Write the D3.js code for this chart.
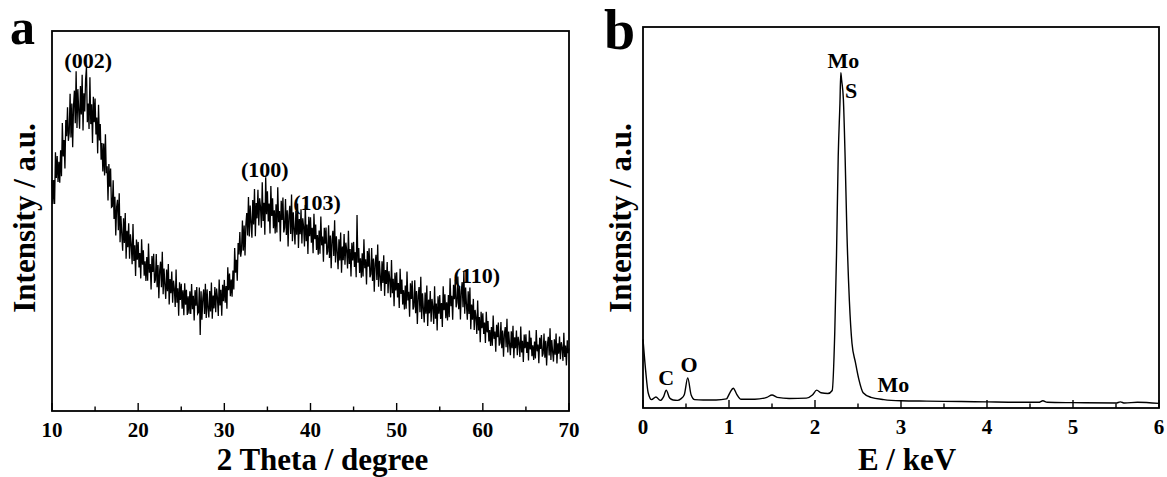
<!DOCTYPE html>
<html>
<head>
<meta charset="utf-8">
<script src="https://cdn.jsdelivr.net/npm/d3@7/dist/d3.min.js"></script>
<style>
  body { margin: 0; background: #fff; }
  svg { display: block; }
  text { font-family: "Liberation Serif", "Times New Roman", serif; font-weight: bold; fill: #000; }
</style>
</head>
<body>
<svg id="chart" width="1167" height="477"></svg>
<script>
// XRD pattern, 2 theta from 10 to 70 in 0.1 degree steps (one row per degree)
const xrdStart = 10;
const xrdStep = 0.1;
const xrdIntensity = [
  608, 545, 608, 545, 681, 613, 671, 603, 656, 601,
  686, 618, 758, 670, 713, 638, 766, 723, 799, 711,
  732, 835, 720, 809, 694, 804, 843, 757, 894, 745,
  847, 791, 743, 855, 780, 885, 738, 836, 788, 872,
  905, 760, 809, 742, 878, 755, 807, 705, 827, 760,
  822, 728, 772, 678, 806, 712, 755, 661, 705, 630,
  704, 620, 728, 626, 644, 554, 650, 590, 638, 536,
  538, 607, 505, 564, 462, 537, 556, 476, 573, 444,
  513, 465, 422, 507, 442, 521, 401, 474, 431, 494,
  401, 465, 439, 386, 492, 395, 436, 355, 451, 398,
  445, 378, 416, 349, 452, 385, 423, 356, 394, 342,
  405, 343, 441, 364, 387, 320, 408, 366, 414, 337,
  345, 413, 326, 384, 297, 370, 393, 326, 419, 307,
  375, 332, 295, 372, 315, 387, 280, 347, 310, 367,
  285, 343, 321, 274, 372, 285, 323, 251, 339, 292,
  335, 269, 318, 252, 336, 280, 319, 253, 302, 256,
  315, 255, 334, 268, 303, 238, 318, 277, 326, 256,
  260, 325, 200, 315, 240, 295, 320, 255, 335, 245,
  320, 270, 246, 316, 262, 338, 243, 304, 270, 326,
  260, 322, 298, 250, 346, 278, 319, 251, 332, 289,
  345, 285, 329, 269, 378, 318, 362, 302, 346, 301,
  370, 320, 429, 364, 398, 343, 442, 412, 471, 406,
  425, 501, 422, 488, 409, 490, 521, 462, 563, 459,
  541, 496, 456, 555, 491, 584, 460, 547, 507, 582,
  488, 560, 536, 482, 602, 500, 548, 464, 615, 518,
  578, 499, 546, 467, 592, 513, 560, 481, 528, 467,
  544, 470, 589, 497, 526, 446, 553, 503, 562, 470,
  483, 558, 463, 528, 433, 514, 540, 466, 570, 447,
  523, 478, 438, 526, 464, 546, 429, 505, 465, 531,
  441, 507, 484, 433, 542, 447, 491, 413, 511, 460,
  510, 443, 482, 415, 519, 452, 491, 424, 463, 411,
  475, 414, 512, 436, 459, 393, 482, 440, 483, 411,
  420, 489, 403, 462, 376, 450, 474, 408, 502, 391,
  460, 419, 373, 452, 396, 470, 364, 433, 397, 466,
  385, 443, 422, 375, 474, 387, 426, 354, 443, 396,
  445, 379, 418, 352, 516, 390, 429, 363, 402, 351,
  415, 354, 452, 376, 399, 333, 421, 380, 428, 352,
  360, 429, 342, 401, 314, 388, 411, 345, 438, 327,
  395, 353, 316, 394, 337, 410, 303, 371, 334, 392,
  310, 368, 346, 299, 397, 310, 348, 276, 364, 317,
  365, 299, 337, 271, 374, 308, 346, 280, 318, 267,
  330, 269, 367, 291, 314, 248, 336, 295, 343, 267,
  275, 344, 257, 316, 229, 303, 326, 260, 353, 242,
  310, 269, 233, 312, 256, 330, 224, 293, 257, 316,
  235, 295, 274, 229, 328, 243, 283, 212, 302, 256,
  305, 242, 284, 221, 328, 265, 307, 244, 286, 238,
  305, 247, 349, 276, 303, 240, 332, 294, 346, 273,
  285, 354, 268, 327, 241, 315, 339, 273, 367, 256,
  325, 280, 240, 315, 255, 325, 215, 280, 240, 295,
  213, 266, 246, 203, 291, 212, 247, 181, 261, 218,
  257, 203, 233, 179, 261, 207, 237, 183, 213, 171,
  221, 172, 251, 190, 209, 156, 227, 194, 233, 172,
  179, 234, 165, 212, 143, 202, 221, 168, 243, 154,
  209, 176, 147, 210, 165, 224, 139, 194, 165, 212,
  147, 195, 179, 142, 222, 154, 185, 129, 201, 165,
  202, 153, 182, 133, 212, 162, 193, 144, 173, 134,
  183, 138, 213, 157, 175, 126, 193, 163, 200, 143,
  151, 204, 140, 185, 120, 176, 195, 146, 218, 134,
  187, 156, 130, 189, 148, 204, 125, 178, 151, 196,
  136, 181, 166, 132, 206, 142, 172, 120, 186, 152,
  165
];
const xrdLabels = ["(002)", "(100)", "(103)", "(110)"];
const xrdLabelAt = [14.2, 34.7, 40.75, 59.3];
const xrdLabelLevel = [903, 616, 529, 337];

// EDS spectrum, energy in keV and counts in arbitrary units
const edsEnergy = [0, 0.03, 0.06, 0.1, 0.15, 0.2, 0.24, 0.27, 0.31, 0.35, 0.4, 0.44, 0.48, 0.52, 0.56, 0.6,
  0.7, 0.85, 0.97, 1.01, 1.05, 1.09, 1.14, 1.3, 1.44, 1.5, 1.56, 1.7, 1.9, 1.97, 2.02, 2.07, 2.15, 2.2,
  2.23, 2.25, 2.27, 2.29, 2.3, 2.31, 2.33, 2.35, 2.37, 2.4, 2.43, 2.47, 2.51, 2.56, 2.65, 2.8, 3.0,
  3.3, 3.7, 4.0, 4.4, 4.6, 4.65, 4.7, 5.0, 5.5, 5.55, 5.6, 5.75, 6.0];
const edsCounts = [18, 10, 4, 2.2, 2.9, 2.0, 3.0, 4.7, 2.6, 2.1, 2.0, 2.4, 3.5, 7.9, 3.4, 2.2,
  2.1, 2.1, 2.4, 4.0, 5.2, 3.6, 2.3, 2.3, 2.8, 3.4, 2.8, 2.5, 2.6, 3.4, 4.7, 4.0, 3.8, 4.6,
  20, 40, 66, 80, 88, 86, 81, 66, 47, 28, 17, 12, 7.5, 4.0, 2.8, 2.2, 1.9,
  1.8, 1.7, 1.6, 1.5, 1.5, 1.9, 1.5, 1.4, 1.3, 1.6, 1.3, 1.5, 1.2];
const edsLabels = ["Mo", "S", "C", "O", "Mo"];
const edsLabelAt = [2.33, 2.42, 0.27, 0.535, 2.91];
const edsLabelLevel = [89.2, 81.4, 6.0, 9.4, 4.2];

const xrdTicks = [10, 20, 30, 40, 50, 60, 70];
const edsTicks = [0, 1, 2, 3, 4, 5, 6];

const svg = d3.select("#chart");

function drawFrame(g, x, majors, minors, w, h) {
  g.selectAll(".minor").data(minors).enter().append("line")
    .attr("x1", d => x(d)).attr("x2", d => x(d))
    .attr("y1", h).attr("y2", h - 4.5)
    .attr("stroke", "#000").attr("stroke-width", 1.4);
  g.selectAll(".major").data(majors).enter().append("line")
    .attr("x1", d => x(d)).attr("x2", d => x(d))
    .attr("y1", h).attr("y2", h - 8)
    .attr("stroke", "#000").attr("stroke-width", 1.4);
  g.selectAll(".ticklabel").data(majors).enter().append("text")
    .attr("x", d => x(d)).attr("y", h + 26)
    .attr("text-anchor", "middle")
    .attr("font-size", 21)
    .text(d => d);
  g.append("rect")
    .attr("x", 0).attr("y", 0).attr("width", w).attr("height", h)
    .attr("fill", "none").attr("stroke", "#000").attr("stroke-width", 1.8);
}

// ---- panel a ----
const aLeft = 52, aTop = 31, aW = 517, aH = 380;
const ga = svg.append("g").attr("transform", `translate(${aLeft},${aTop})`);
const xa = d3.scaleLinear().domain([10, 70]).range([0, aW]);
const ya = d3.scaleLinear().domain([0, 1000]).range([aH, 0]);

ga.append("path")
  .datum(xrdIntensity)
  .attr("fill", "none")
  .attr("stroke", "#000")
  .attr("stroke-width", 1.3)
  .attr("d", d3.line()
    .x((d, i) => xa(xrdStart + i * xrdStep))
    .y(d => ya(d)));

drawFrame(ga, xa, xrdTicks, d3.range(15, 70, 10), aW, aH);

ga.selectAll(".peak").data(xrdLabels).enter().append("text")
  .attr("x", (d, i) => xa(xrdLabelAt[i]))
  .attr("y", (d, i) => ya(xrdLabelLevel[i]))
  .attr("text-anchor", "middle")
  .attr("font-size", 22)
  .text(d => d);

ga.append("text")
  .attr("transform", "translate(-17,187) rotate(-90)")
  .attr("text-anchor", "middle")
  .attr("font-size", 31)
  .text("Intensity / a.u.");

ga.append("text")
  .attr("x", aW / 2 + 12).attr("y", aH + 59)
  .attr("text-anchor", "middle")
  .attr("font-size", 31)
  .text("2 Theta / degree");

svg.append("text").attr("x", 10).attr("y", 44).attr("font-size", 50).text("a");

// ---- panel b ----
const bLeft = 643, bTop = 27, bW = 516, bH = 381;
const gb = svg.append("g").attr("transform", `translate(${bLeft},${bTop})`);
const xb = d3.scaleLinear().domain([0, 6]).range([0, bW]);
const yb = d3.scaleLinear().domain([0, 100]).range([bH, 0]);

gb.append("path")
  .datum(edsEnergy.map((e, i) => [e, edsCounts[i]]))
  .attr("fill", "none")
  .attr("stroke", "#000")
  .attr("stroke-width", 1.4)
  .attr("d", d3.line()
    .curve(d3.curveMonotoneX)
    .x(d => xb(d[0]))
    .y(d => yb(d[1])));

drawFrame(gb, xb, edsTicks, d3.range(0.5, 6, 1), bW, bH);

gb.selectAll(".peak").data(edsLabels).enter().append("text")
  .attr("x", (d, i) => xb(edsLabelAt[i]))
  .attr("y", (d, i) => yb(edsLabelLevel[i]))
  .attr("text-anchor", "middle")
  .attr("font-size", 22)
  .text(d => d);

gb.append("text")
  .attr("transform", "translate(-12,191) rotate(-90)")
  .attr("text-anchor", "middle")
  .attr("font-size", 31)
  .text("Intensity / a.u.");

gb.append("text")
  .attr("x", bW / 2 + 6).attr("y", bH + 62)
  .attr("text-anchor", "middle")
  .attr("font-size", 31)
  .text("E / keV");

svg.append("text").attr("x", 604).attr("y", 49).attr("font-size", 56).text("b");
</script>
</body>
</html>
